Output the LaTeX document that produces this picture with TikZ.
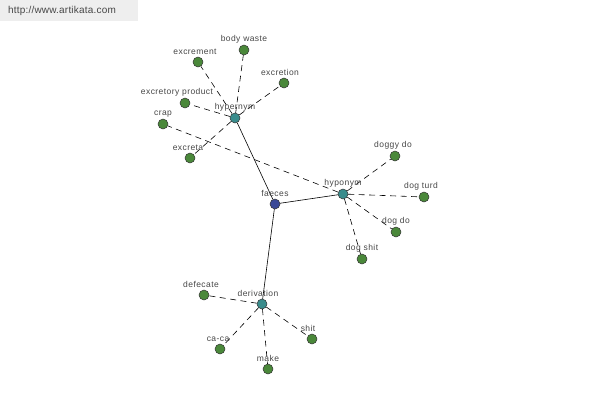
\documentclass[tikz,border=0pt]{standalone}
\usepackage{fontspec}
\setmainfont{Liberation Sans}
\usepackage{tikz}
\usetikzlibrary{arrows,shapes,calc}
\usetikzlibrary{backgrounds}

\definecolor{rootblue}{RGB}{58,72,150}
\definecolor{relteal}{RGB}{58,140,140}
\definecolor{wordgreen}{RGB}{74,136,58}
\definecolor{lblgray}{RGB}{70,70,70}
\definecolor{bannergray}{RGB}{238,238,238}

\tikzset{
  dot/.style={circle,draw=black!80,line width=0.5pt,minimum size=10pt,inner sep=0pt},
  root/.style={dot,fill=rootblue},
  rel/.style={dot,fill=relteal},
  word/.style={dot,fill=wordgreen},
  lbl/.style={font=\fontsize{8.5}{9}\selectfont\addfontfeature{LetterSpace=5},text=lblgray,inner sep=1pt,label distance=0.5pt},
  tie/.style={draw=black,line width=0.6pt},
  syn/.style={draw=black,line width=0.6pt,dash pattern=on 6pt off 4.5pt}
}

\begin{document}
\begin{tikzpicture}[x=1pt,y=-1pt]
\useasboundingbox (0,0) rectangle (600,400);
\fill[bannergray] (0,0) rectangle (138,21);
\node (site) at (62,11) {\fontsize{10}{11}\selectfont\addfontfeature{LetterSpace=2}\color{lblgray}http://www.artikata.com};

% centre and relations
\node[root,label={[lbl]above:faeces}] (faeces) at (275,204) {};
\node[rel,label={[lbl]above:hypernym}] (hyper) at (235,118) {};
\node[rel,label={[lbl]above:hyponym}] (hypo) at (343,194) {};
\node[rel,label={[lbl,xshift=-4pt]above:derivation}] (deriv) at (262,304) {};

% hypernyms
\node[word,label={[lbl]above:body waste}] (bodywaste) at (244,50) {};
\node[word,label={[lbl,xshift=-3pt]above:excrement}] (excrement) at (198,62) {};
\node[word,label={[lbl,xshift=-4pt]above:excretion}] (excretion) at (284,83) {};
\node[word,label={[lbl,xshift=-8pt]above:excretory product}] (exprod) at (185,103) {};
\node[word,label={[lbl,xshift=-2pt]above:excreta}] (excreta) at (190,158) {};

% hyponyms
\node[word,label={[lbl]above:crap}] (crap) at (163,124) {};
\node[word,label={[lbl,xshift=-2pt]above:doggy do}] (doggydo) at (395,156) {};
\node[word,label={[lbl,xshift=-3pt]above:dog turd}] (dogturd) at (424,197) {};
\node[word,label={[lbl]above:dog do}] (dogdo) at (396,232) {};
\node[word,label={[lbl]above:dog shit}] (dogshit) at (362,259) {};

% derivations
\node[word,label={[lbl,xshift=-3pt]above:defecate}] (defecate) at (204,295) {};
\node[word,label={[lbl,xshift=-2pt]above:ca-ca}] (caca) at (220,349) {};
\node[word,label={[lbl]above:make}] (make) at (268,369) {};
\node[word,label={[lbl,xshift=-4pt]above:shit}] (shit) at (312,339) {};

\begin{scope}[on background layer]
\draw[tie] (faeces) -- (hyper);
\draw[tie] (faeces) -- (hypo);
\draw[tie] (faeces) -- (deriv);
\foreach \w in {bodywaste,excrement,excretion,exprod,excreta}
  \draw[syn] (hyper) -- (\w);
\foreach \w in {crap,doggydo,dogturd,dogdo,dogshit}
  \draw[syn] (hypo) -- (\w);
\foreach \w in {defecate,caca,make,shit}
  \draw[syn] (deriv) -- (\w);
\end{scope}
\end{tikzpicture}
\end{document}
